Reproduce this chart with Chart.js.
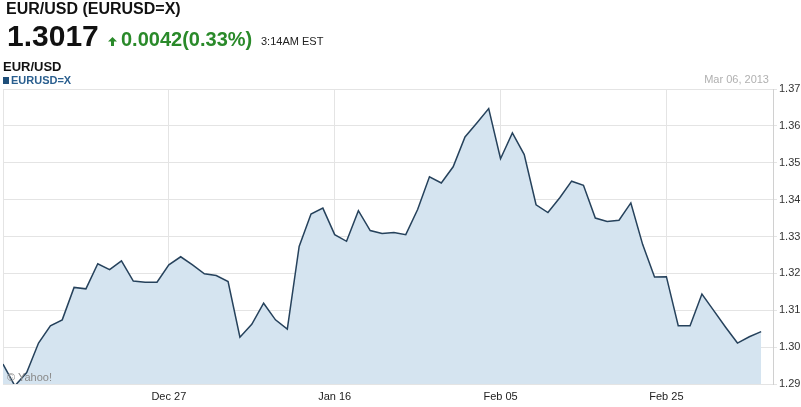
<!DOCTYPE html>
<html>
<head>
<meta charset="utf-8">
<script src="https://cdn.jsdelivr.net/npm/chart.js@4.4.1/dist/chart.umd.min.js"></script>
<style>
  body { margin: 0; background: #fff; font-family: "Liberation Sans", Arial, sans-serif; }
  #wrap { position: relative; width: 801px; height: 407px; overflow: hidden; }
  #myChart { position: absolute; left: 0; top: 0; }
  .t { position: absolute; white-space: nowrap; }
</style>
</head>
<body>
<div id="wrap">
  <canvas id="myChart" width="801" height="407"></canvas>
  <div class="t" style="left:6px;top:0px;font-size:16px;font-weight:bold;color:#111;">EUR/USD (EURUSD=X)</div>
  <div class="t" style="left:7px;top:19px;font-size:30px;font-weight:bold;color:#111;">1.3017</div>
  <svg class="t" style="left:108px;top:37px;" width="9" height="9" viewBox="0 0 9 9">
    <polygon points="4.5,0 9,4.6 6,4.6 6,9 3,9 3,4.6 0,4.6" fill="#2a8a2a"/>
  </svg>
  <div class="t" style="left:121px;top:28px;font-size:20px;font-weight:bold;color:#2a8a2a;">0.0042(0.33%)</div>
  <div class="t" style="left:261px;top:35px;font-size:11px;color:#222;">3:14AM EST</div>
  <div class="t" style="left:3px;top:59px;font-size:13px;font-weight:bold;color:#111;">EUR/USD</div>
  <div class="t" style="left:3px;top:74px;font-size:11px;font-weight:bold;color:#2a5f8f;"><span style="display:inline-block;width:6px;height:7px;background:#1f4f7a;margin-right:2px;"></span>EURUSD=X</div>
  <div class="t" style="right:32px;top:73px;font-size:11px;color:#b0b0b0;">Mar 06, 2013</div>
  <div class="t" style="left:7px;top:371px;font-size:11px;color:#8a8a8a;">&copy; Yahoo!</div>
</div>
<script>
// weekday closes, Dec 07 2012 .. Mar 07 2013
var dates = [
  'Dec 07', 'Dec 10', 'Dec 11', 'Dec 12', 'Dec 13', 'Dec 14',
  'Dec 17', 'Dec 18', 'Dec 19', 'Dec 20', 'Dec 21',
  'Dec 24', 'Dec 25', 'Dec 26', 'Dec 27', 'Dec 28',
  'Dec 31', 'Jan 01', 'Jan 02', 'Jan 03', 'Jan 04',
  'Jan 07', 'Jan 08', 'Jan 09', 'Jan 10', 'Jan 11',
  'Jan 14', 'Jan 15', 'Jan 16', 'Jan 17', 'Jan 18',
  'Jan 21', 'Jan 22', 'Jan 23', 'Jan 24', 'Jan 25',
  'Jan 28', 'Jan 29', 'Jan 30', 'Jan 31', 'Feb 01',
  'Feb 04', 'Feb 05', 'Feb 06', 'Feb 07', 'Feb 08',
  'Feb 11', 'Feb 12', 'Feb 13', 'Feb 14', 'Feb 15',
  'Feb 18', 'Feb 19', 'Feb 20', 'Feb 21', 'Feb 22',
  'Feb 25', 'Feb 26', 'Feb 27', 'Feb 28', 'Mar 01',
  'Mar 04', 'Mar 05', 'Mar 06', 'Mar 07'
];
var eurusd = [
  1.2954, 1.2895, 1.2931, 1.3011, 1.3058, 1.3074,
  1.3162, 1.3158, 1.3226, 1.3210, 1.3234,
  1.3179, 1.3176, 1.3176, 1.3223, 1.3245,
  1.3223, 1.3199, 1.3194, 1.3178, 1.3027,
  1.3062, 1.3119, 1.3074, 1.3049, 1.3273,
  1.3361, 1.3377, 1.3305, 1.3287, 1.3370,
  1.3316, 1.3308, 1.3311, 1.3305, 1.3373,
  1.3462, 1.3445, 1.3489, 1.3570, 1.3608,
  1.3647, 1.3511, 1.3581, 1.3522, 1.3386,
  1.3365, 1.3405, 1.3450, 1.3439, 1.3350,
  1.3341, 1.3344, 1.3391, 1.3278, 1.3190,
  1.3191, 1.3058, 1.3058, 1.3144, 1.3099,
  1.3054, 1.3011, 1.3028, 1.3042
];
var xTickDates = ['Dec 27', 'Jan 16', 'Feb 05', 'Feb 25'];
var yMin = 1.29, yMax = 1.37, yStep = 0.01;

var points = eurusd.map(function (v, i) { return { x: i, y: v }; });
var xTicks = [0].concat(xTickDates.map(function (d) { return dates.indexOf(d); }), [dates.length]);

var ctx = document.getElementById('myChart').getContext('2d');
var myChart = new Chart(ctx, {
    type: 'line',
    data: {
        datasets: [{
            label: 'EURUSD=X',
            data: points,
            fill: 'start',
            backgroundColor: 'rgb(213, 228, 240)',
            borderColor: 'rgb(38, 66, 92)',
            borderWidth: 1.5,
            pointRadius: 0,
            tension: 0
        }]
    },
    options: {
        responsive: false,
        animation: false,
        layout: { padding: { left: 3, top: 89, right: 0, bottom: 0 } },
        plugins: {
            legend: { display: false },
            tooltip: { enabled: false }
        },
        scales: {
            x: {
                type: 'linear',
                min: 0,
                max: dates.length,
                afterBuildTicks: function (scale) {
                    scale.ticks = xTicks.map(function (v) { return { value: v }; });
                },
                afterFit: function (scale) {
                    scale.height = 23;
                    scale.paddingLeft = 0;
                    scale.paddingRight = 0;
                },
                grid: { color: '#e4e4e4', drawTicks: false },
                border: { display: false },
                ticks: {
                    padding: 6,
                    maxRotation: 0,
                    autoSkip: false,
                    color: '#222',
                    font: { family: 'Liberation Sans, Arial', size: 11 },
                    callback: function (v) {
                        return xTickDates.indexOf(dates[v]) >= 0 ? dates[v] : '';
                    }
                }
            },
            y: {
                position: 'right',
                min: yMin,
                max: yMax,
                afterFit: function (scale) { scale.width = 28; },
                grid: { color: '#e4e4e4', tickLength: 4 },
                border: { display: true, color: '#d0d0d0' },
                ticks: {
                    stepSize: yStep,
                    padding: 2,
                    color: '#333',
                    font: { family: 'Liberation Sans, Arial', size: 11 },
                    callback: function (v) { return v.toFixed(2); }
                }
            }
        }
    }
});
</script>
</body>
</html>
